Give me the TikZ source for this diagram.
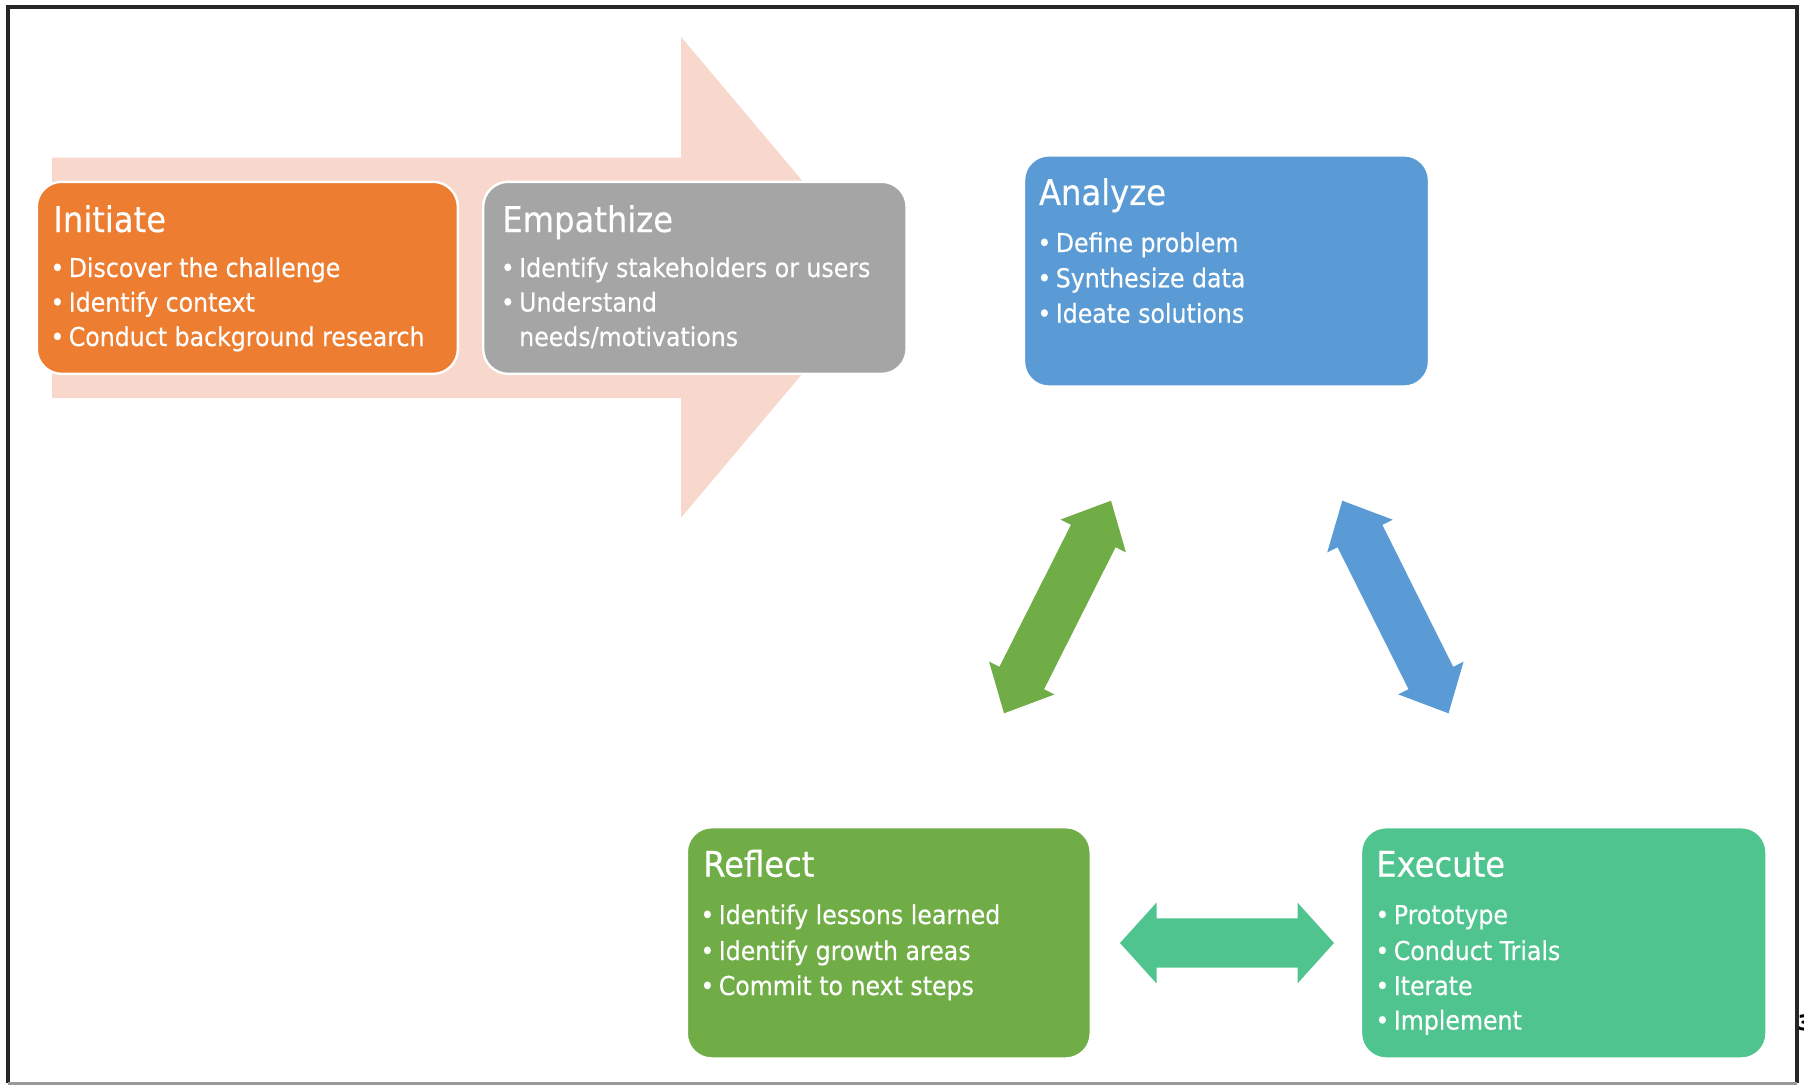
\documentclass[tikz,border=0pt]{standalone}
\usepackage{fontspec}
\setmainfont{DejaVu Sans}[FakeStretch=0.91,FakeBold=0.4]
\usetikzlibrary{calc}
\definecolor{cOrange}{RGB}{237,125,49}
\definecolor{cGray}{RGB}{165,165,165}
\definecolor{cBlue}{RGB}{91,155,213}
\definecolor{cGreen}{RGB}{112,173,71}
\definecolor{cTeal}{RGB}{79,196,143}
\definecolor{cPink}{RGB}{248,216,205}
\newcommand\dblarr[6]{%
  \coordinate (#1h) at ($(#1)!#4!(#2)$);
  \coordinate (#2h) at ($(#2)!#4!(#1)$);
  \fill[#3] (#1) -- ($(#1h)!#5!90:(#2)$) -- ($(#1h)!#6!90:(#2)$)
    -- ($(#2h)!#6!-90:(#1)$) -- ($(#2h)!#5!-90:(#1)$) -- (#2)
    -- ($(#2h)!#5!90:(#1)$) -- ($(#2h)!#6!90:(#1)$)
    -- ($(#1h)!#6!-90:(#2)$) -- ($(#1h)!#5!-90:(#2)$) -- cycle;}
\tikzset{
  box/.style={draw=white, line width=1.2pt, rounded corners=12.5pt,
    anchor=north west, inner sep=0pt, outer sep=0pt},
  ttl/.style={anchor=base west, inner sep=0pt, text=white, font=\fontsize{17.7}{20}\selectfont},
  bul/.style={anchor=base west, inner sep=0pt, text=white, font=\fontsize{13}{16}\selectfont},
}
\newcommand\bline[4]{\node[bul] (#1) at (#2,#3) {\makebox[11.4pt]{•}#4};}
\newcommand\contline[4]{\node[bul] (#1) at (#2,#3) {\hspace*{11.4pt}#4};}
\begin{document}
\begin{tikzpicture}[x=0.5pt,y=-0.5pt]
\useasboundingbox (0,0) rectangle (1804,1086);
% pink background arrow
\fill[cPink] (52,157.6) -- (681,157.6) -- (681,36.8) -- (883.6,277.3)
  -- (681,517.7) -- (681,398.1) -- (52,398.1) -- cycle;
% boxes
\node[box, fill=cOrange, minimum width=210.55pt, minimum height=96.05pt] (init) at (36.8,181.8) {};
\node[box, fill=cGray, minimum width=211.7pt, minimum height=96.05pt] (emp) at (483.2,181.8) {};
\node[box, fill=cBlue, minimum width=202.5pt, minimum height=115.65pt] (ana) at (1024,155.3) {};
\node[box, fill=cGreen, minimum width=201.95pt, minimum height=115.65pt] (refl) at (686.8,827.2) {};
\node[box, fill=cTeal, minimum width=202.75pt, minimum height=115.65pt] (exe) at (1361,827.2) {};
% Initiate
\node[ttl] (initT) at (53,232) {Initiate};
\bline{i1}{45.6}{277}{Discover the challenge}
\bline{i2}{45.6}{311.5}{Identify context}
\bline{i3}{45.6}{346}{Conduct background research}
% Empathize
\node[ttl] (empT) at (502,232) {Empathize};
\bline{e1}{496}{277}{Identify stakeholders or users}
\bline{e2}{496}{311.5}{Understand}
\contline{e3}{496}{346}{needs/motivations}
% Analyze
\node[ttl] (anaT) at (1038.6,205) {Analyze};
\bline{a1}{1032.6}{252}{Define problem}
\bline{a2}{1032.6}{287.3}{Synthesize data}
\bline{a3}{1032.6}{322.7}{Ideate solutions}
% Reflect
\node[ttl] (reflT) at (702.8,876.7) {Reflect};
\bline{r1}{695.6}{924}{Identify lessons learned}
\bline{r2}{695.6}{960}{Identify growth areas}
\bline{r3}{695.6}{995}{Commit to next steps}
% Execute
\node[ttl] (exeT) at (1375.8,876.7) {Execute};
\bline{x1}{1370.6}{924}{Prototype}
\bline{x2}{1370.6}{960}{Conduct Trials}
\bline{x3}{1370.6}{995}{Iterate}
\bline{x4}{1370.6}{1029.5}{Implement}
% double arrows
\coordinate (HL) at (1120,943);
\coordinate (HR) at (1334,943);
\dblarr{HL}{HR}{cTeal}{18.25pt}{20.2pt}{12.3pt}
\coordinate (GA) at (1111,500.7);
\coordinate (GB) at (1004,713.3);
\dblarr{GA}{GB}{cGreen}{19.75pt}{18.3pt}{12.5pt}
\coordinate (BA) at (1342.3,500.7);
\coordinate (BB) at (1448.5,713.3);
\dblarr{BA}{BB}{cBlue}{19.75pt}{18.3pt}{12.5pt}
% frame
\draw[line width=2pt, black!85] (8,1083) -- (8,7) -- (1797,7) -- (1797,1083);
\draw[line width=1.5pt, black!40] (8,1083) -- (1797,1083);
\node[anchor=base west, inner sep=0pt, font=\bfseries\fontsize{10.5}{12}\selectfont] (pg) at (1797.5,1030) {3};
\end{tikzpicture}
\end{document}
